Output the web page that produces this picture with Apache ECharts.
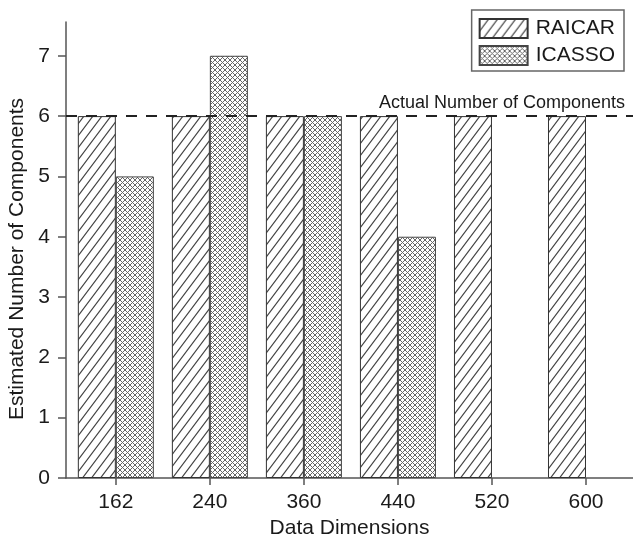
<!DOCTYPE html>
<html>
<head>
<meta charset="utf-8">
<script src="https://cdn.jsdelivr.net/npm/echarts@6/dist/echarts.min.js"></script>
<style>
html,body{margin:0;padding:0;background:#fff;}
#c{width:633px;height:535px;}
</style>
</head>
<body>
<div id="c"></div>
<script>
// ---- data ----
const categories = ['162', '240', '360', '440', '520', '600'];
const raicarValues = [6, 6, 6, 6, 6, 6];
const icassoValues = [5, 7, 6, 4, null, null];
const yTickValues = [0, 1, 2, 3, 4, 5, 6, 7];
const xTickValues = [1, 2, 3, 4, 5, 6];
const actualComponents = 6;

// ---- patterns ----
function hatchPattern() {
  const w = 9, h = 12;
  const c = document.createElement('canvas');
  c.width = w; c.height = h;
  const g = c.getContext('2d');
  g.fillStyle = '#fff'; g.fillRect(0, 0, w, h);
  g.strokeStyle = '#444'; g.lineWidth = 1.2;
  g.beginPath();
  g.moveTo(-w, 2 * h); g.lineTo(2 * w, -h);
  g.moveTo(-2 * w, 2 * h); g.lineTo(w, -h);
  g.moveTo(0, 2 * h); g.lineTo(3 * w, -h);
  g.stroke();
  return c;
}
function crossPattern() {
  const s = 5;
  const c = document.createElement('canvas');
  c.width = s; c.height = s;
  const g = c.getContext('2d');
  g.fillStyle = '#fff'; g.fillRect(0, 0, s, s);
  g.strokeStyle = '#666'; g.lineWidth = 1;
  g.beginPath();
  g.moveTo(0, 0); g.lineTo(s, s);
  g.moveTo(s, 0); g.lineTo(0, s);
  g.stroke();
  return c;
}
const raicarFill = { image: hatchPattern(), repeat: 'repeat' };
const icassoFill = { image: crossPattern(), repeat: 'repeat' };

const font = '"Liberation Sans", Arial, Helvetica, sans-serif';
const chart = echarts.init(document.getElementById('c'), null, { renderer: 'canvas' });

chart.setOption({
  animation: false,
  backgroundColor: '#fff',
  textStyle: { fontFamily: font, color: '#1a1a1a' },
  grid: { left: 66, right: 0, top: 22, bottom: 57, containLabel: false, outerBoundsMode: 'none' },
  legend: {
    orient: 'vertical',
    right: 9,
    top: 10,
    padding: [8, 9, 5, 7],
    itemGap: 6,
    itemWidth: 48,
    itemHeight: 19,
    borderColor: '#666',
    borderWidth: 1.5,
    borderRadius: 0,
    icon: 'rect',
    textStyle: { fontSize: 21, color: '#1a1a1a', fontFamily: font, padding: [0, 0, 0, 3] },
    data: ['RAICAR', 'ICASSO']
  },
  xAxis: {
    type: 'value',
    min: 0.47,
    max: 6.5,
    name: 'Data Dimensions',
    nameLocation: 'middle',
    nameGap: 31,
    nameTextStyle: { fontSize: 21, color: '#1a1a1a', fontFamily: font },
    axisLine: { show: true, lineStyle: { color: '#555', width: 1.5 } },
    axisTick: { show: true, length: 7, lineStyle: { color: '#555', width: 1.5 }, customValues: xTickValues },
    axisLabel: {
      fontSize: 21, color: '#1a1a1a', margin: 14, fontFamily: font,
      customValues: xTickValues,
      formatter: function (v) { return categories[Math.round(v) - 1]; }
    },
    splitLine: { show: false }
  },
  yAxis: {
    type: 'value',
    min: 0,
    max: 7.56,
    name: 'Estimated Number of Components',
    nameLocation: 'middle',
    nameGap: 29,
    nameTextStyle: { fontSize: 21, color: '#1a1a1a', fontFamily: font, padding: [0, 18, 0, 0] },
    axisLine: { show: true, onZero: false, lineStyle: { color: '#555', width: 1.5 } },
    axisTick: { show: true, length: 8, lineStyle: { color: '#555', width: 1.5 }, customValues: yTickValues },
    axisLabel: { fontSize: 21, color: '#1a1a1a', margin: 16, fontFamily: font, customValues: yTickValues },
    splitLine: { show: false }
  },
  series: [
    {
      name: 'RAICAR',
      type: 'bar',
      barWidth: 38,
      barGap: '0%',
      data: raicarValues.map(function (v, i) { return [i + 1, v]; }),
      itemStyle: { color: raicarFill, borderColor: '#333', borderWidth: 1 },
      z: 2
    },
    {
      name: 'ICASSO',
      type: 'bar',
      barWidth: 38,
      barGap: '0%',
      data: icassoValues.map(function (v, i) { return [i + 1, v]; }),
      itemStyle: { color: icassoFill, borderColor: '#444', borderWidth: 1 },
      z: 2,
      markLine: {
        silent: true,
        symbol: ['none', 'none'],
        z: 5,
        lineStyle: { type: [11, 9], color: '#222', width: 2 },
        label: {
          show: true,
          position: 'insideEndTop',
          formatter: 'Actual Number of Components',
          fontSize: 18,
          color: '#1a1a1a',
          fontFamily: font,
          distance: [8, 4]
        },
        data: [{ yAxis: actualComponents }]
      }
    }
  ]
});
</script>
</body>
</html>
